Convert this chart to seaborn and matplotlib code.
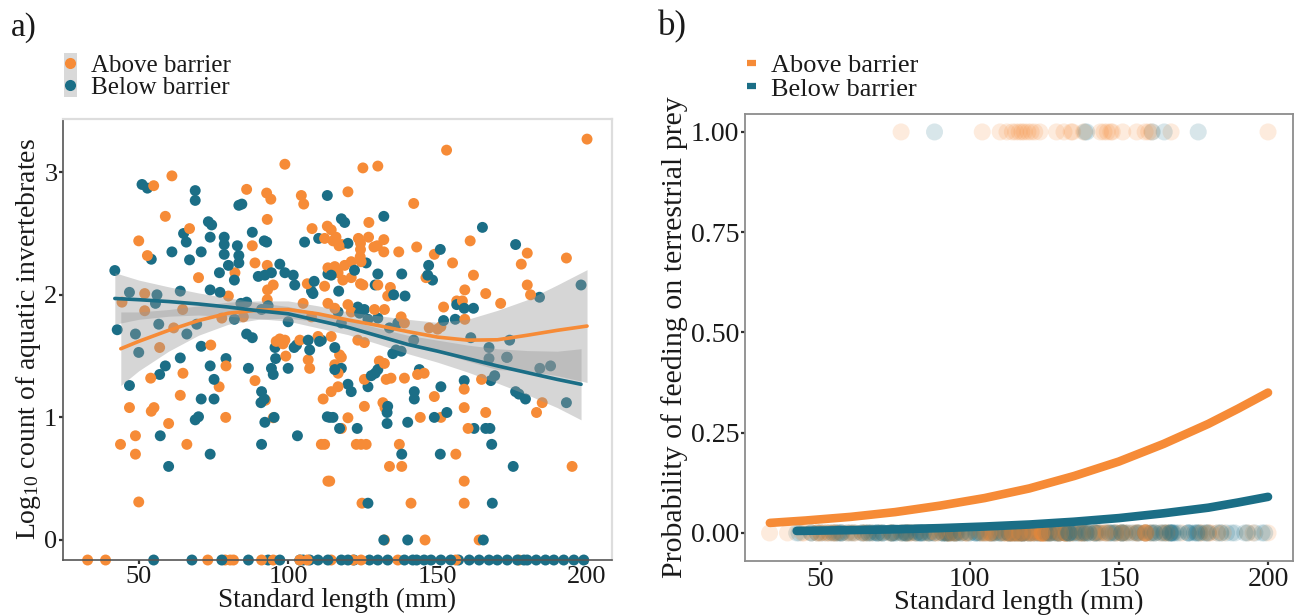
import numpy as np
import pandas as pd
import matplotlib
matplotlib.use("Agg")
import matplotlib.pyplot as plt
from matplotlib.lines import Line2D
from matplotlib.patches import Rectangle
import seaborn as sns

# ---------------- data ----------------
groups = ["Above barrier", "Below barrier"]

# Panel a: standard length (mm) and log10 count of aquatic invertebrates (fish with count > 0)
above_sl = [55, 61.1, 58.9, 50, 52.9, 86.1, 92.8, 94.2, 98.9, 93, 67, 88, 82.2, 70, 88.9, 93, 93.1, 95, 80,
            44.4, 52, 52, 64.7, 85, 93, 77.8,
            200, 153, 125, 130, 120, 142, 127, 108, 113.1, 114.4, 112.2, 115, 117, 116, 118, 123.5, 124.2,
            124.2, 124.1, 124.4, 126.9, 129.8, 132, 132, 128.7, 137, 143, 148.9, 155, 146.1, 160.9, 180, 178,
            193.1, 162, 180, 181.1, 171.1, 166.1, 159.1, 152, 156.4, 158.3, 159.1, 134.2, 133.3, 130, 121.1,
            118.9, 115.6, 113.3, 116.7, 118.3, 121.1, 124.2, 125, 106.4, 112.2, 105, 104.4, 105.2, 147.2, 150,
            151.1, 128.9, 132.2, 137.8, 138.9, 107.8, 113.3, 115.6, 120, 121.1,
            103.9, 106.7, 115.6, 117.2, 117.8, 110, 114.4, 123.3, 125.5,
            57, 61.7, 74.1, 79.2, 64.8, 54, 76.9, 63.9, 46.9, 54.2, 55.1, 60, 79.1, 48.9, 43.9, 48.9, 66.1, 50,
            88.9, 92.4, 95, 96, 97.2, 98.3, 98.9, 99.2,
            164.7, 185, 183.1, 130.5, 132.2, 125.5, 132.8, 134.4, 138.9, 143.3, 145.5, 148.9, 151.1, 144.2,
            158.9, 158.9, 160.2, 166.1, 107.2, 125.5, 131.7, 132.4, 137.2, 133.9, 138, 156.1, 158.9, 158.9, 195,
            124.7, 141.1, 113.9, 113.3, 120, 117.8, 111.1, 112.2, 122.8, 124.4, 126.1, 132.2, 145.8, 163.9,
            116.7, 116.7, 114.4, 111.7]
above_log = [2.89, 2.97, 2.64, 2.44, 2.32, 2.86, 2.83, 2.78, 3.065, 2.615, 2.54, 2.40, 2.18, 2.14, 2.26, 2.24,
             2.04, 2.08, 1.99, 1.94, 2.01, 1.87, 1.88, 1.82, 1.96, 1.81,
             3.27, 3.18, 3.035, 3.05, 2.84, 2.745, 2.59, 2.54, 2.56, 2.53, 2.46, 2.44, 2.40, 2.47, 2.41, 2.46,
             2.42, 2.37, 2.31, 2.27, 2.47, 2.40, 2.45, 2.35, 2.39, 2.35, 2.39, 2.33, 2.26, 2.14, 2.44, 2.34,
             2.25, 2.30, 2.16, 2.08, 2.00, 1.93, 2.01, 2.04, 1.90, 1.95, 1.95, 1.80, 2.06, 1.99, 2.08, 2.27,
             2.24, 2.23, 2.22, 2.18, 2.12, 2.14, 2.09, 2.08, 2.09, 2.07, 1.93, 2.81, 2.74, 1.73, 1.72,
             1.74, 1.88, 1.88, 1.82, 1.77, 1.82, 1.93, 1.89, 1.92, 1.86,
             1.63, 1.47, 1.43, 1.51, 1.49, 1.66, 1.66, 1.63, 1.61,
             1.57, 1.73, 1.59, 1.42, 1.36, 1.32, 1.25, 1.18, 1.08, 1.05, 1.08, 0.95, 1.0, 0.85, 0.78, 0.70, 0.78,
             0.31, 1.30, 1.14, 0.997, 1.62, 1.64, 1.60, 1.63, 1.50,
             1.31, 1.12, 1.04, 1.46, 1.44, 1.31, 1.31, 1.32, 1.32, 1.35, 1.36, 1.17, 1.0, 1.0,
             1.23, 1.08, 0.91, 1.04, 1.40, 1.09, 1.12, 1.08, 0.78, 0.60, 0.60, 0.70, 0.48, 0.30, 0.60,
             0.30, 0.30, 0.48, 0.48, 0.997, 0.91, 0.78, 0.78, 0.78, 0.78, 0.78, 0.0, 0.0, 0.0,
             1.36, 1.25, 1.21, 1.15]
# fish with zero aquatic invertebrates (log10 = -Inf, drawn on the panel edge)
above_zero_sl = [32.9, 38.9, 73.1, 78.9, 80.6, 81.7, 91.1, 95, 103.9, 106.4, 114.4, 121.7, 124.4, 136.7,
                 156.1, 177.2]

below_sl = [42, 51.1, 52.9, 68.9, 68.9, 83.5, 84.5, 54.2, 65, 65.9, 73.3, 74.4, 73.9, 61.1, 67, 70.9, 78.6,
            78.6, 78.6, 83, 83.5, 83.5, 88, 92, 92.8, 77, 80, 82, 90, 92.2, 94.4, 97.2, 98.9, 101.7, 102.2,
            73.9, 77.2, 46.9, 56.1, 55.6, 63.9, 56.7, 69.4, 82, 84.2, 86.1, 91.1, 93.3, 100,
            113.1, 132, 117.8, 118.9, 165, 105.5, 110.2, 120, 150.9, 147, 146.7, 148.3, 176.1, 184.1, 198,
            156.4, 158.9, 162, 155.9, 152, 138, 139.1, 135.3, 130, 129.1, 126.1, 122.2, 113.3, 114.4, 116.9,
            108.7, 108.3, 107.8, 136.7, 133.9, 130, 126.7, 123.9, 116.7, 117.8, 123.3, 125.5,
            42.8, 48.9, 50, 66.1, 70.9, 63.9, 79.2, 73.9, 58.9, 57, 46.9, 75.2, 75.2, 70.9, 68.9, 70, 57.2,
            73.9, 60, 86.7, 88, 86.1, 91.1, 90.9, 92, 92.2, 95.3, 91.1, 94.4, 95, 95.8, 95.6, 100, 102, 102.8,
            103.1,
            161.1, 167.2, 167.2, 173.1, 169.1, 167.8, 176.1, 177.2, 179.4, 187.8, 184.2, 193.1, 174.1, 173.3,
            142, 136.1, 137.8, 135, 129.1, 130, 127.8, 143.9, 142.2, 142.2, 151.1, 153.1, 148.9, 158.9, 162.2,
            166.1, 167.5, 168.1, 117.8, 115.6, 107.2, 120, 121.1, 126.7, 133.3, 133.1, 133.1, 140, 138, 150.9,
            168.3, 175.3, 126.7, 113.1, 113.9, 115, 117.2, 123.1, 132, 140, 165.3,
            106.7, 111.1, 115.6, 110.5]
below_log = [2.198, 2.90, 2.87, 2.85, 2.77, 2.73, 2.74, 2.29, 2.50, 2.43, 2.596, 2.57, 2.47, 2.35, 2.285, 2.35,
             2.47, 2.41, 2.33, 2.40, 2.32, 2.26, 2.51, 2.44, 2.43, 2.18, 2.24, 2.12, 2.15, 2.16, 2.18, 2.25,
             2.18, 2.16, 2.08, 2.04, 2.02, 2.02, 2.0, 1.93, 2.03, 1.76, 1.76, 1.80, 1.93, 1.94, 1.88, 1.91, 1.78,
             2.81, 2.64, 2.62, 2.59, 2.55, 2.43, 2.46, 2.42, 2.37, 2.24, 2.16, 2.12, 2.41, 1.98, 2.08,
             1.92, 1.89, 1.89, 1.80, 1.79, 2.17, 1.99, 2.0, 2.17, 2.08, 2.26, 2.20, 2.17, 2.16, 2.03,
             2.11, 2.01, 2.03, 1.77, 1.73, 1.81, 1.80, 1.85, 1.86, 1.77, 1.90, 1.88,
             1.715, 1.68, 1.53, 1.68, 1.58, 1.485, 1.48, 1.42, 1.42, 1.35, 1.26, 1.31, 1.15, 1.15, 0.98, 1.005,
             0.85, 0.70, 0.60, 1.40, 1.65, 1.68, 1.21, 1.12, 1.15, 0.96, 1.0, 0.78, 1.40, 1.35, 1.48, 1.57, 1.40,
             1.57, 1.59, 0.85,
             1.65, 1.57, 1.48, 1.49, 1.34, 1.30, 1.21, 1.19, 1.15, 1.42, 1.40, 1.12, 1.63, 1.49,
             1.63, 1.55, 1.54, 1.52, 1.36, 1.39, 1.34, 1.39, 1.21, 1.15, 1.25, 1.04, 1.0, 1.30, 0.91,
             0.91, 0.91, 0.78, 1.40, 1.39, 1.55, 1.27, 1.21, 1.25, 1.09, 1.04, 0.95, 0.96, 0.70, 0.70,
             0.30, 0.60, 0.30, 1.005, 1.0, 1.0, 0.91, 0.91, 0.0, 0.0, 0.0,
             1.63, 1.63, 1.57, 1.62]
below_zero_sl = [55, 67.8, 77.8, 86.7, 93.3, 97.2, 103.9, 105, 107.2, 110, 113.3, 117.8, 120, 122, 127.2, 130,
                 133.3, 138.9, 141.7, 143, 145.5, 147.8, 151.1, 154.4, 157, 160.6, 163.9, 167.2, 170, 173.3,
                 176.7, 178.9, 180, 183, 186.1, 188.9, 192.2, 195.6, 198.9]

# Panel a smoothers (fitted value and 95% band)
above_fit_x = [44, 50, 60, 70, 80, 90, 100, 110, 120, 130, 140, 150, 160, 170, 180, 190, 200]
above_fit_y = [1.56, 1.62, 1.71, 1.79, 1.85, 1.875, 1.88, 1.845, 1.795, 1.75, 1.70, 1.655, 1.63, 1.633, 1.67,
               1.71, 1.745]
above_fit_lo = [1.26, 1.38, 1.54, 1.67, 1.76, 1.80, 1.81, 1.78, 1.73, 1.67, 1.60, 1.535, 1.46, 1.39, 1.38,
                1.34, 1.285]
above_fit_hi = [1.86, 1.86, 1.88, 1.91, 1.94, 1.95, 1.95, 1.91, 1.86, 1.83, 1.80, 1.775, 1.80, 1.873, 1.96,
                2.08, 2.205]
below_fit_x = [42, 50, 60, 70, 80, 90, 100, 110, 120, 130, 140, 150, 160, 170, 180, 190, 198]
below_fit_y = [1.97, 1.96, 1.945, 1.925, 1.90, 1.87, 1.845, 1.79, 1.735, 1.665, 1.595, 1.54, 1.48, 1.42,
               1.365, 1.31, 1.27]
below_fit_lo = [1.76, 1.80, 1.825, 1.835, 1.825, 1.805, 1.785, 1.73, 1.675, 1.60, 1.52, 1.45, 1.37, 1.28,
                1.185, 1.08, 0.98]
below_fit_hi = [2.18, 2.12, 2.065, 2.015, 1.975, 1.935, 1.905, 1.85, 1.795, 1.73, 1.67, 1.63, 1.59, 1.56,
                1.545, 1.54, 1.56]

# Panel b: fish recorded feeding on terrestrial prey (value 1)
above_terr_sl = [77.0, 104.2, 110.2, 112.5, 114.3, 115.4, 116.6, 117.5, 118.3, 119.5, 120.6, 121.8, 123.5,
                 129.1, 131.6, 134.0, 134.5, 138.2, 143.8, 145.0, 146.1, 147.3, 147.8, 151.3, 156.0, 158.8,
                 160.0, 161.0, 167.5, 200.0]
below_terr_sl = [88.2, 138.6, 139.2, 161.2, 165.2, 176.6]
# Panel b: fitted probability curves
above_prob_x = [33, 45, 60, 75, 90, 105, 120, 135, 150, 165, 180, 190, 200]
above_prob_y = [0.025, 0.031, 0.040, 0.052, 0.068, 0.087, 0.111, 0.142, 0.178, 0.222, 0.272, 0.310, 0.350]
below_prob_x = [42, 60, 75, 90, 105, 120, 135, 150, 165, 180, 190, 200]
below_prob_y = [0.005, 0.007, 0.009, 0.012, 0.016, 0.021, 0.028, 0.037, 0.049, 0.063, 0.076, 0.090]

x_ticks = [50, 100, 150, 200]
a_y_ticks = [0, 1, 2, 3]
b_y_ticks = [0.00, 0.25, 0.50, 0.75, 1.00]
b_y_ticklabels = ["0.00", "0.25", "0.50", "0.75", "1.00"]

# ---------------- style ----------------
sns.set_theme(style="white")
plt.rcParams["font.family"] = ["Liberation Serif", "DejaVu Serif"]
plt.rcParams["mathtext.fontset"] = "custom"
plt.rcParams["mathtext.rm"] = "Liberation Serif"

ORANGE = "#F68B37"
TEAL = "#1B6E86"
palette = {"Above barrier": ORANGE, "Below barrier": TEAL}
TXT = "#1a1a1a"

fig = plt.figure(figsize=(13.01, 6.15), dpi=100)
axa = fig.add_axes([0.0484, 0.0894, 0.422, 0.717])
axb = fig.add_axes([0.5726, 0.0878, 0.4212, 0.727])

# ---------------- panel a ----------------
ya_min, ya_max = -0.1635, 3.4335
xlim = (24.65, 208.35)

pts = pd.DataFrame({
    "sl": above_sl + below_sl + above_zero_sl + below_zero_sl,
    "logc": above_log + below_log + [ya_min] * len(above_zero_sl) + [ya_min] * len(below_zero_sl),
    "group": (["Above barrier"] * len(above_sl) + ["Below barrier"] * len(below_sl)
              + ["Above barrier"] * len(above_zero_sl) + ["Below barrier"] * len(below_zero_sl)),
})
pts = pts.sample(frac=1.0, random_state=3).reset_index(drop=True)  # interleave draw order
sns.scatterplot(data=pts, x="sl", y="logc", hue="group", palette=palette, s=62, linewidth=0,
                alpha=1.0, ax=axa, legend=False, clip_on=False, zorder=2)

for fx, fy, lo, hi, col in [(above_fit_x, above_fit_y, above_fit_lo, above_fit_hi, ORANGE),
                            (below_fit_x, below_fit_y, below_fit_lo, below_fit_hi, TEAL)]:
    axa.fill_between(fx, lo, hi, color="#999999", alpha=0.4, linewidth=0, zorder=3)
for fx, fy, lo, hi, col in [(above_fit_x, above_fit_y, above_fit_lo, above_fit_hi, ORANGE),
                            (below_fit_x, below_fit_y, below_fit_lo, below_fit_hi, TEAL)]:
    sns.lineplot(x=fx, y=fy, color=col, linewidth=2.6, ax=axa, zorder=4)

axa.set_xlim(*xlim)
axa.set_ylim(ya_min, ya_max)
axa.set_xticks(x_ticks)
axa.set_yticks(a_y_ticks)
axa.set_xlabel("Standard length (mm)", fontsize=19.5, color=TXT, labelpad=0)
axa.set_ylabel("Log$\\mathregular{_{10}}$ count of aquatic invertebrates", fontsize=20, color=TXT, labelpad=1)
axa.tick_params(axis="both", labelsize=19, colors="#333333", labelcolor=TXT, length=3, width=1.6,
                direction="out", pad=1, bottom=True, left=True)
for side in ["left", "bottom"]:
    axa.spines[side].set_color("#555555")
    axa.spines[side].set_linewidth(1.2)
for side in ["top", "right"]:
    axa.spines[side].set_color("#dddddd")
    axa.spines[side].set_linewidth(1.6)

# legend a
handles_a = [Line2D([0], [0], marker="o", linestyle="none", markersize=8, markerfacecolor=palette[g],
                    markeredgewidth=0) for g in groups]
fig.patches.append(Rectangle((64 / 1301, 1 - 97 / 615), 13 / 1301, 44 / 615, transform=fig.transFigure,
                             facecolor="#d9d9d9", edgecolor="none", zorder=0))
fig.legend(handles_a, groups, loc="upper left", bbox_to_anchor=(62 / 1301, 1 - 54 / 615), frameon=False,
           fontsize=18, labelspacing=0.0, handlelength=0.6, handletextpad=0.55, borderpad=0,
           borderaxespad=0, labelcolor=TXT)

# ---------------- panel b ----------------
zero_df = pd.DataFrame({
    "sl": above_sl + above_zero_sl + below_sl + below_zero_sl,
    "group": (["Above barrier"] * (len(above_sl) + len(above_zero_sl))
              + ["Below barrier"] * (len(below_sl) + len(below_zero_sl))),
})
zero_df["terr"] = 0.0
one_df = pd.DataFrame({
    "sl": above_terr_sl + below_terr_sl,
    "group": ["Above barrier"] * len(above_terr_sl) + ["Below barrier"] * len(below_terr_sl),
})
one_df["terr"] = 1.0
bdf = pd.concat([zero_df, one_df]).sample(frac=1.0, random_state=5).reset_index(drop=True)
sns.scatterplot(data=bdf, x="sl", y="terr", hue="group", palette=palette, s=150, linewidth=0,
                alpha=0.17, ax=axb, legend=False, zorder=2)
sns.lineplot(x=above_prob_x, y=above_prob_y, color=ORANGE, linewidth=6.2, ax=axb, zorder=3)
sns.lineplot(x=below_prob_x, y=below_prob_y, color=TEAL, linewidth=6.2, ax=axb, zorder=3)

axb.set_xlim(*xlim)
axb.set_ylim(-0.07, 1.045)
axb.set_xticks(x_ticks)
axb.set_yticks(b_y_ticks)
axb.set_yticklabels(b_y_ticklabels)
axb.set_xlabel("Standard length (mm)", fontsize=20.5, color=TXT, labelpad=-1)
axb.set_ylabel("Probability of feeding on terrestrial prey", fontsize=21.5, color=TXT, labelpad=2)
axb.tick_params(axis="both", labelsize=20, colors="#333333", labelcolor=TXT, length=3, width=1.6,
                direction="out", pad=1, bottom=True, left=True)
for side in ["left", "bottom", "top", "right"]:
    axb.spines[side].set_color("#8c8c8c")
    axb.spines[side].set_linewidth(1.3)

handles_b = [Line2D([0], [0], color=palette[g], linewidth=4.5, solid_capstyle="butt") for g in groups]
fig.legend(handles_b, groups, loc="upper left", bbox_to_anchor=(747 / 1301, 1 - 54 / 615), frameon=False,
           fontsize=19, labelspacing=-0.01, handlelength=0.35, handletextpad=0.55, borderpad=0,
           borderaxespad=0, labelcolor=TXT)

# panel letters
fig.text(11 / 1301, 1 - 28 / 615, "a)", fontsize=24, color=TXT, va="center", ha="left")
fig.text(658 / 1301, 1 - 27 / 615, "b)", fontsize=25, color=TXT, va="center", ha="left")

fig.savefig("out.png", dpi=100, facecolor="white")
